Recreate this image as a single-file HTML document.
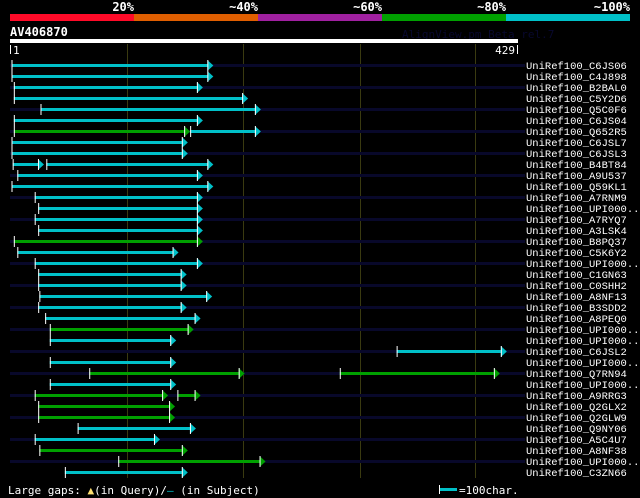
<!DOCTYPE html>
<html><head><meta charset="utf-8"><style>
html,body{margin:0;padding:0;background:#000;width:640px;height:498px;overflow:hidden}
svg{display:block;font-family:"DejaVu Sans Mono","Liberation Mono",monospace}
</style></head><body>
<svg id="c" width="640" height="498">
<g>
<rect x="10" y="14" width="124" height="7" fill="#ff0a28"/>
<rect x="134" y="14" width="124" height="7" fill="#e05e00"/>
<rect x="258" y="14" width="124" height="7" fill="#a020a0"/>
<rect x="382" y="14" width="124" height="7" fill="#00a000"/>
<rect x="506" y="14" width="124" height="7" fill="#00c0c8"/>
<g fill="#fff" font-size="12" font-weight="bold" text-anchor="end">
<text x="134" y="11">20%</text><text x="258" y="11">~40%</text><text x="382" y="11">~60%</text><text x="506" y="11">~80%</text><text x="630" y="11">~100%</text></g>
</g>
<text x="10" y="36" fill="#fff" font-size="12" font-weight="bold">AV406870</text>
<text x="402" y="38" fill="#08082e" font-size="11">AlignView.pm Beta rel.7</text>
<rect x="10" y="39" width="508" height="4" fill="#fff"/>
<rect x="10" y="45" width="1" height="9" fill="#fff"/>
<text x="13" y="54" fill="#fff" font-size="11">1</text>
<text x="515" y="54" fill="#fff" font-size="11" text-anchor="end">429</text>
<rect x="517" y="45" width="1" height="9" fill="#fff"/>
<g id="grid"></g><g id="rows"></g>
<g>
<text x="8" y="494" fill="#fff" font-size="11">Large gaps: <tspan fill="#ffe070">▲</tspan>(in Query)/<tspan fill="#00c0c8">–</tspan> (in Subject)</text>
<rect x="440" y="488" width="17" height="3" fill="#00c0c8"/>
<rect x="439" y="485" width="1" height="9" fill="#fff"/>
<text x="459" y="494" fill="#fff" font-size="11">=100char.</text>
</g>
</svg>
<script>
const hitNames=["C6JS06","C4J898","B2BAL0","C5Y2D6","Q5C0F6","C6JS04","Q652R5","C6JSL7","C6JSL3","B4BT84","A9U537","Q59KL1","A7RNM9","UPI000..","A7RYQ7","A3LSK4","B8PQ37","C5K6Y2","UPI000..","C1GN63","C0SHH2","A8NF13","B3SDD2","A8PEQ0","UPI000..","UPI000..","C6JSL2","UPI000..","Q7RN94","UPI000..","A9RRG3","Q2GLX2","Q2GLW9","Q9NY06","A5C4U7","A8NF38","UPI000..","C3ZN66"];
const segRow=[0,1,2,3,4,5,6,6,7,8,9,9,10,11,12,13,14,15,16,17,18,19,20,21,22,23,24,25,26,27,28,28,29,30,30,31,32,33,34,35,36,37];
const segStart=[0,0,2,2,25,2,2,154,0,0,1,30,5,0,20,23,20,23,2,5,20,23,23,24,23,29,33,33,332,33,67,283,33,20,143,23,23,57,20,24,92,46];
const segEnd=[174,174,165,204,215,165,154,215,152,152,28,174,165,174,165,165,165,165,165,144,165,151,151,173,151,163,157,142,427,142,201,421,142,135,163,141,141,159,128,152,219,152];
const segColor=["c","c","c","c","c","c","g","c","c","c","c","c","c","c","c","c","c","c","g","c","c","c","c","c","c","c","g","c","c","c","g","g","c","g","g","g","g","c","c","g","g","c"];
const gridTicks=[100,200,300,400];
const X=c=>11.5+c*1.16, Y=r=>64+r*11;
const NS="http://www.w3.org/2000/svg";
function mk(t,a,p){const e=document.createElementNS(NS,t);for(const k in a)e.setAttribute(k,a[k]);p.appendChild(e);return e;}
const grid=document.getElementById('grid'),rows=document.getElementById('rows');
gridTicks.forEach(t=>{const l=mk('rect',{x:Math.round(X(t)),y:44,width:1,height:434,fill:'#3a3a10'},grid);

});
hitNames.forEach((n,r)=>{
 if(r%2==0){const s=mk('rect',{x:10,y:Y(r),width:515,height:3,fill:'#08082a'},rows);
 
 }
 const t=mk('text',{x:526,y:Y(r)+5,fill:'#fff','font-size':'10.5','font-family':'Liberation Mono, monospace'},rows);t.textContent='UniRef100_'+n;
 
 
});
segRow.forEach((r,i)=>{
 const col=segColor[i]=='g'?'#00a000':'#00c0c8';
 const x0=X(segStart[i]),x1=X(segEnd[i]),y=Y(r);
 const g=mk('g',{},rows);
 
 
 mk('rect',{x:x0,y:y,width:Math.max(0,x1-x0-5),height:3,fill:col},g);
 mk('rect',{x:x0,y:y-4,width:1,height:11,fill:'#fff'},g);
 mk('polygon',{points:`${x1-6},${y-4} ${x1},${y+1.5} ${x1-6},${y+7}`,fill:col},g);
 mk('rect',{x:x1-6,y:y-4,width:1,height:11,fill:'#fff'},g);
});
</script>
</body></html>
